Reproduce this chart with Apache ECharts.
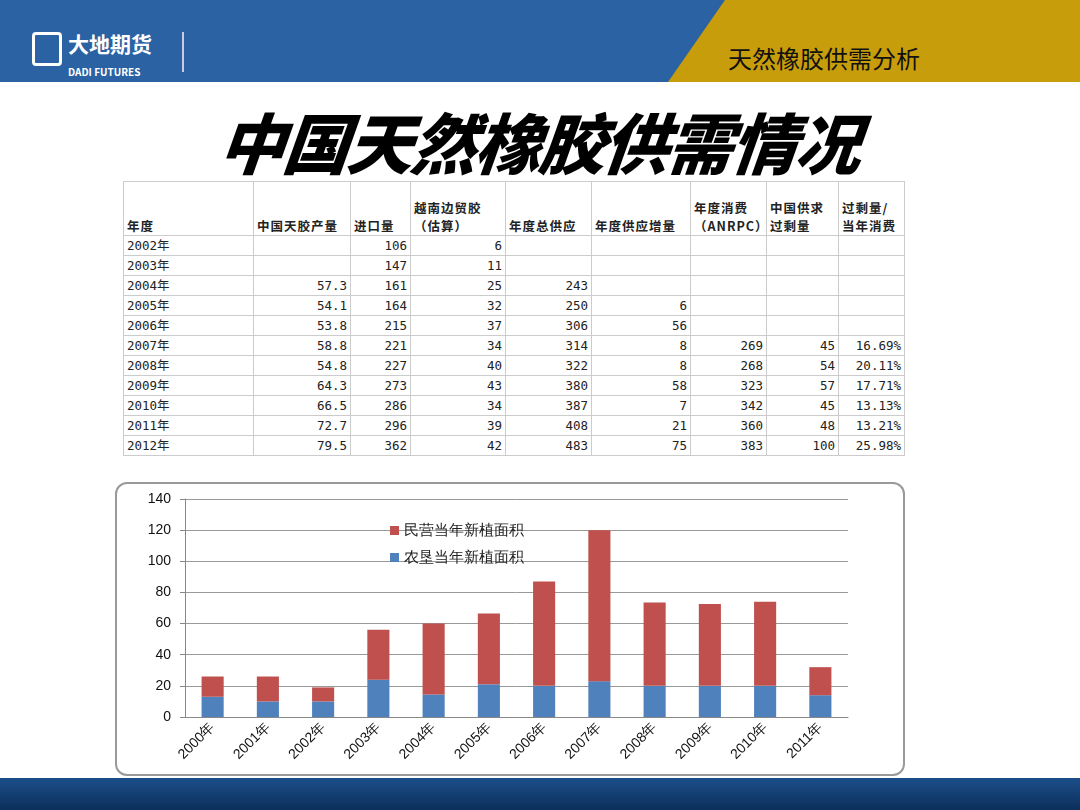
<!DOCTYPE html>
<html><head><meta charset="utf-8">
<script src="https://cdn.jsdelivr.net/npm/echarts@6/dist/echarts.min.js"></script>
<style>
body{margin:0;width:1080px;height:810px;position:relative;overflow:hidden;background:#fff;font-family:"Noto Sans CJK SC",sans-serif}
#bar{position:absolute;left:0;top:0;width:1080px;height:82px;background:#2a62a3}
#gold{position:absolute;left:0;top:0;width:1080px;height:82px;background:#c89d0c;clip-path:polygon(725px 0,1080px 0,1080px 82px,668px 82px)}
#logo{position:absolute;left:32px;top:32px;width:150px;height:40px;color:#fff;font-weight:bold;border-right:2px solid #ccd}
#sub{position:absolute;left:728px;top:40px;font-size:24px;color:#111}
#title{position:absolute;left:0;width:1080px;top:92px;text-align:center;font-size:66px;font-weight:900;font-style:italic;transform:skewX(-6deg);letter-spacing:-2px}
table{position:absolute;left:123px;top:181px;width:781px;table-layout:fixed;border-collapse:collapse;font-size:12.5px;color:#222;font-family:"DejaVu Sans Mono","Noto Sans CJK SC",monospace}
td{border:1px solid #ccc;height:19px;padding:0 3px;white-space:nowrap;overflow:hidden;line-height:19px}
td.n{text-align:right}
tr.h td{height:53px;vertical-align:bottom;line-height:18px;white-space:normal;font-family:"Noto Sans CJK SC";font-weight:bold;letter-spacing:1px}
#box{position:absolute;left:115px;top:482px;width:786px;height:290px;border:2px solid #999;border-radius:12px;background:#fff}
#foot{position:absolute;left:0;top:778px;width:1080px;height:32px;background:linear-gradient(#1b4f8a,#0c2e5a)}
</style></head><body>
<div id="bar"></div><div id="gold"></div>
<div id="logo"><span style="display:inline-block;width:30px;height:34px;border:3px solid #fff;border-radius:4px;box-sizing:border-box;float:left;margin-right:6px"></span><span style="font-size:21px;line-height:22px">大地期货</span><br><span style="font-size:10px">DADI FUTURES</span></div>
<div id="sub">天然橡胶供需分析</div>
<div id="title">中国天然橡胶供需情况</div>
<table id="tbl"></table>
<div id="foot"></div>
<div id="box"><div id="chart" style="width:786px;height:290px"></div></div>
<script>
var headers = ['年度','中国天胶产量','进口量','越南边贸胶（估算）','年度总供应','年度供应增量','年度消费（ANRPC）','中国供求过剩量','过剩量/当年消费'];
var colWidths = [130,97,60,95,86,99,76,72,66];
var tableRows = [
  ['2002年','','106','6','','','','',''],
  ['2003年','','147','11','','','','',''],
  ['2004年','57.3','161','25','243','','','',''],
  ['2005年','54.1','164','32','250','6','','',''],
  ['2006年','53.8','215','37','306','56','','',''],
  ['2007年','58.8','221','34','314','8','269','45','16.69%'],
  ['2008年','54.8','227','40','322','8','268','54','20.11%'],
  ['2009年','64.3','273','43','380','58','323','57','17.71%'],
  ['2010年','66.5','286','34','387','7','342','45','13.13%'],
  ['2011年','72.7','296','39','408','21','360','48','13.21%'],
  ['2012年','79.5','362','42','483','75','383','100','25.98%']
];
var years = ['2000年','2001年','2002年','2003年','2004年','2005年','2006年','2007年','2008年','2009年','2010年','2011年'];
var farmArea = [13,10,10,24,14.5,21,20,23,20,20,20,14];
var privateArea = [13,16,9,32,45.5,45.5,67,97,53.5,52.5,54,18];

var html = '<colgroup>';
colWidths.forEach(function(w){ html += '<col style="width:'+w+'px">'; });
html += '</colgroup><tr class="h">';
headers.forEach(function(h){ html += '<td>'+h+'</td>'; });
html += '</tr>';
tableRows.forEach(function(r){
  html += '<tr>';
  r.forEach(function(c,i){ html += '<td class="'+(i?'n':'')+'">'+c+'</td>'; });
  html += '</tr>';
});
document.getElementById('tbl').innerHTML = html;

var chart = echarts.init(document.getElementById('chart'));
chart.setOption({
  animation:false,
  grid:{left:68,right:55,top:15,bottom:57},
  legend:{
    orient:'vertical', left:268, top:34, itemWidth:9, itemHeight:9, itemGap:12, icon:'rect',
    textStyle:{fontSize:15,color:'#222',letterSpacing:2},
    data:['民营当年新植面积','农垦当年新植面积']
  },
  xAxis:{
    type:'category', data:years,
    axisLine:{lineStyle:{color:'#888'}},
    axisTick:{lineStyle:{color:'#888'}},
    axisLabel:{rotate:45,color:'#111',fontSize:14,interval:0,margin:8}
  },
  yAxis:{
    type:'value', min:0, max:140, interval:20,
    axisLine:{show:true,lineStyle:{color:'#888'}},
    axisTick:{show:true,lineStyle:{color:'#888'}},
    axisLabel:{color:'#111',fontSize:14,margin:14},
    splitLine:{lineStyle:{color:'#999'}}
  },
  series:[
    {name:'农垦当年新植面积',type:'bar',stack:'a',barWidth:'40%',data:farmArea,itemStyle:{color:'#4f81bd'}},
    {name:'民营当年新植面积',type:'bar',stack:'a',data:privateArea,itemStyle:{color:'#c0504d'}}
  ]
});
</script>
</body></html>
